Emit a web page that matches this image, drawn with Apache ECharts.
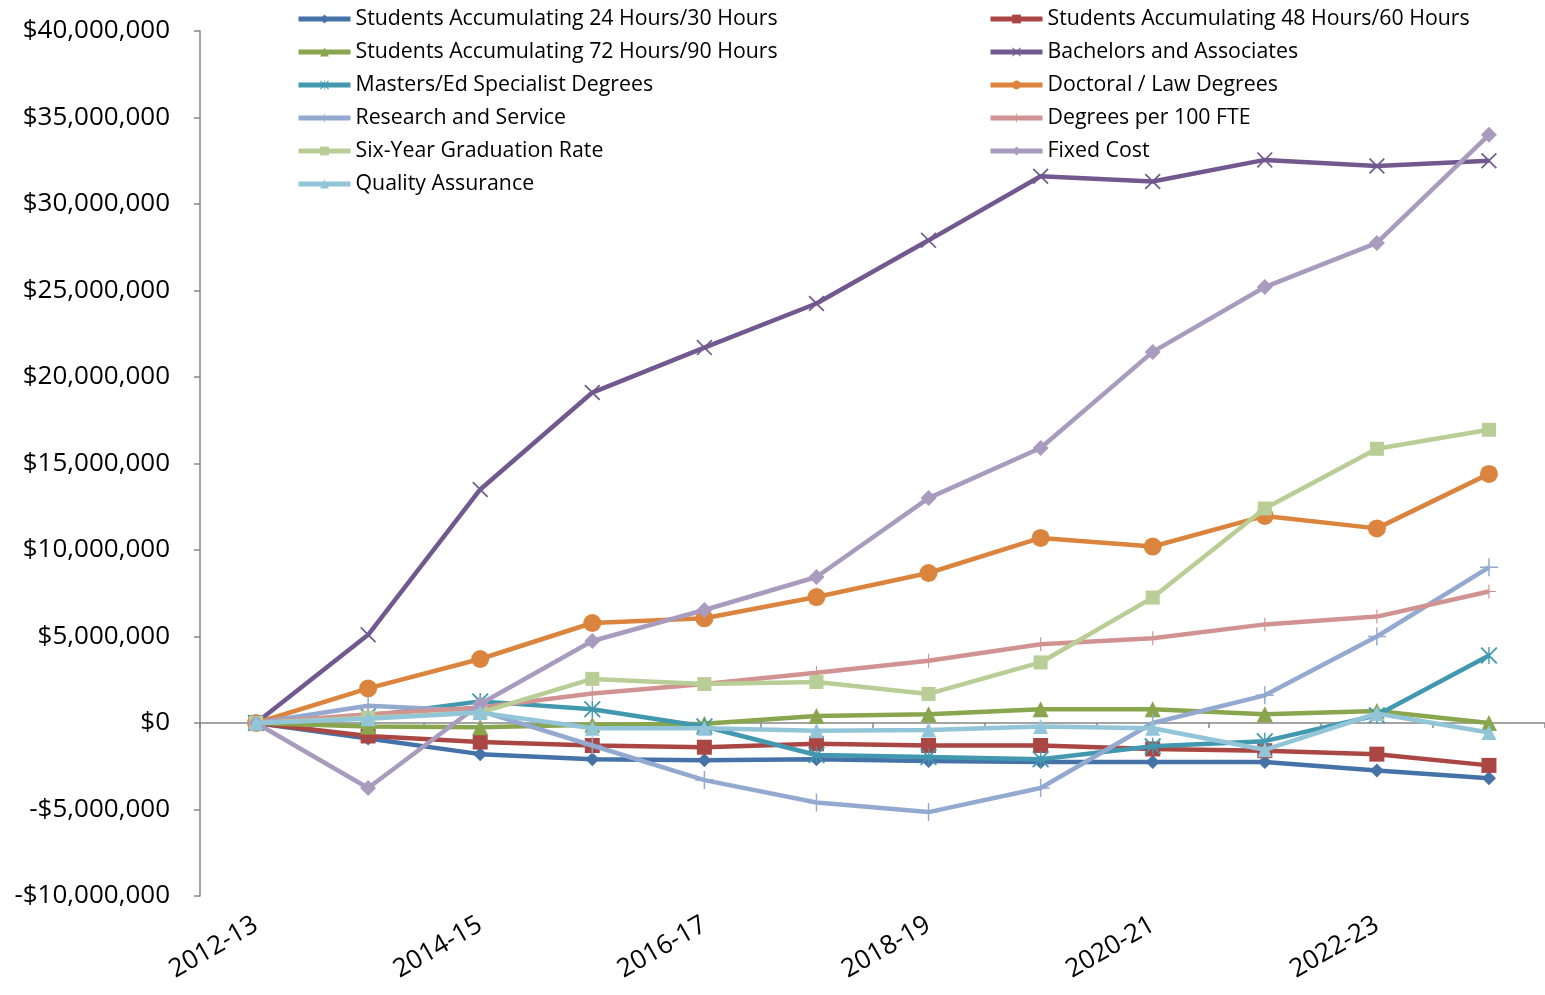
<!DOCTYPE html>
<html>
<head>
<meta charset="utf-8">
<script src="https://cdn.jsdelivr.net/npm/echarts@6/dist/echarts.min.js"></script>
<style>html,body{margin:0;padding:0;background:#fff;}#c{width:1545px;height:995px;}</style>
</head>
<body>
<div id="c"></div>
<script>
const categories = ['2012-13','2013-14','2014-15','2015-16','2016-17','2017-18','2018-19','2019-20','2020-21','2021-22','2022-23','2023-24'];
const yTicks = {min: -10000000, max: 40000000, interval: 5000000};

const s24_30 = [0, -900000, -1800000, -2100000, -2150000, -2100000, -2200000, -2250000, -2250000, -2250000, -2750000, -3200000];
const s48_60 = [0, -750000, -1100000, -1300000, -1400000, -1200000, -1300000, -1300000, -1500000, -1600000, -1800000, -2450000];
const s72_90 = [0, -200000, -250000, -100000, -50000, 400000, 500000, 800000, 800000, 500000, 700000, 0];
const bachelors = [0, 5100000, 13500000, 19100000, 21700000, 24250000, 27900000, 31600000, 31300000, 32550000, 32200000, 32500000];
const masters = [0, 400000, 1250000, 800000, -200000, -1850000, -1970000, -2100000, -1350000, -1050000, 450000, 3900000];
const doctoral = [0, 2000000, 3700000, 5780000, 6050000, 7280000, 8670000, 10700000, 10200000, 11970000, 11250000, 14400000];
const research = [0, 1000000, 700000, -1300000, -3300000, -4600000, -5150000, -3760000, 0, 1600000, 5000000, 9000000];
const degreesPer100 = [0, 500000, 900000, 1700000, 2250000, 2900000, 3600000, 4550000, 4900000, 5700000, 6150000, 7600000];
const sixYear = [0, 300000, 600000, 2550000, 2250000, 2370000, 1680000, 3500000, 7250000, 12400000, 15850000, 16950000];
const fixedCost = [0, -3760000, 1100000, 4740000, 6530000, 8440000, 13000000, 15900000, 21450000, 25200000, 27750000, 34000000];
const quality = [0, 250000, 600000, -300000, -300000, -450000, -400000, -200000, -300000, -1550000, 550000, -550000];

const names = [
  'Students Accumulating 24 Hours/30 Hours',
  'Students Accumulating 48 Hours/60 Hours',
  'Students Accumulating 72 Hours/90 Hours',
  'Bachelors and Associates',
  'Masters/Ed Specialist Degrees',
  'Doctoral / Law Degrees',
  'Research and Service',
  'Degrees per 100 FTE',
  'Six-Year Graduation Rate',
  'Fixed Cost',
  'Quality Assurance'
];
const values = [s24_30, s48_60, s72_90, bachelors, masters, doctoral, research, degreesPer100, sixYear, fixedCost, quality];

const X_PATH = 'path://M0,1.5 L1.5,0 L10,8.5 L18.5,0 L20,1.5 L11.5,10 L20,18.5 L18.5,20 L10,11.5 L1.5,20 L0,18.5 L8.5,10 Z';
const PLUS_PATH = 'path://M9.2,0 H10.8 V9.2 H20 V10.8 H10.8 V20 H9.2 V10.8 H0 V9.2 H9.2 Z';
const STAR_PATH = 'path://M0,1.5 L1.5,0 L10,8.5 L18.5,0 L20,1.5 L11.5,10 L20,18.5 L18.5,20 L10,11.5 L1.5,20 L0,18.5 L8.5,10 Z M9.2,0 H10.8 V20 H9.2 Z';

const styles = [
  {color:'#4572A7', symbol:'diamond', size:14},
  {color:'#AA4643', symbol:'rect', size:15},
  {color:'#89A54E', symbol:'triangle', size:16},
  {color:'#71588F', symbol:X_PATH, size:16},
  {color:'#4198AF', symbol:STAR_PATH, size:17},
  {color:'#DB843D', symbol:'circle', size:18},
  {color:'#93A9CF', symbol:PLUS_PATH, size:18},
  {color:'#D19392', symbol:PLUS_PATH, size:14},
  {color:'#B9CD96', symbol:'rect', size:14},
  {color:'#A99BBD', symbol:'diamond', size:16},
  {color:'#92C5D7', symbol:'triangle', size:15}
];

const series = names.map((n, i) => ({
  name: n,
  type: 'line',
  data: values[i],
  xAxisIndex: 0,
  yAxisIndex: 0,
  symbol: styles[i].symbol,
  symbolSize: styles[i].size,
  showAllSymbol: true,
  lineStyle: {color: styles[i].color, width: 4.5},
  itemStyle: {color: styles[i].color},
  emphasis: {disabled: true},
  z: 2 + i
}));

function money(v) {
  const a = Math.abs(v).toLocaleString('en-US');
  return (v < 0 ? '-$' : '$') + a;
}

const legendText = {fontFamily: 'Open Sans', fontSize: 21.3, lineHeight: 22, color: '#000'};
const leftNames = names.filter((_, i) => i % 2 === 0);
const rightNames = names.filter((_, i) => i % 2 === 1);
const legendCommon = {orient: 'vertical', top: 8, padding: 0, itemWidth: 52, itemHeight: 11, itemGap: 11,
  textStyle: legendText, selectedMode: false, lineStyle: {width: 5}};

const chart = echarts.init(document.getElementById('c'));
chart.setOption({
  animation: false,
  backgroundColor: '#fff',
  grid: {left: 200, right: 0, top: 31, bottom: 99, containLabel: false},
  legend: [
    Object.assign({data: leftNames, left: 296}, legendCommon),
    Object.assign({data: rightNames, left: 988}, legendCommon)
  ],
  xAxis: [
    {
      type: 'category', data: categories, boundaryGap: true, position: 'bottom',
      axisLine: {onZero: true, lineStyle: {color: '#868686', width: 1.5}},
      axisTick: {show: true, length: 5, lineStyle: {color: '#868686', width: 1.5}},
      axisLabel: {show: false}, splitLine: {show: false}
    },
    {
      type: 'category', data: categories, boundaryGap: true, position: 'bottom',
      axisLine: {show: false, onZero: false}, axisTick: {show: false},
      axisLabel: {show: true, interval: 1, rotate: 30, fontFamily: 'Open Sans', fontSize: 26, color: '#000', margin: 27},
      splitLine: {show: false}
    }
  ],
  yAxis: {
    type: 'value', min: yTicks.min, max: yTicks.max, interval: yTicks.interval,
    axisLine: {show: true, lineStyle: {color: '#868686', width: 1.5}},
    axisTick: {show: true, length: 6, lineStyle: {color: '#868686', width: 1.5}},
    axisLabel: {formatter: money, fontFamily: 'Open Sans', fontSize: 26, color: '#000', margin: 30},
    splitLine: {show: false}
  },
  series: series
});
</script>
</body>
</html>
